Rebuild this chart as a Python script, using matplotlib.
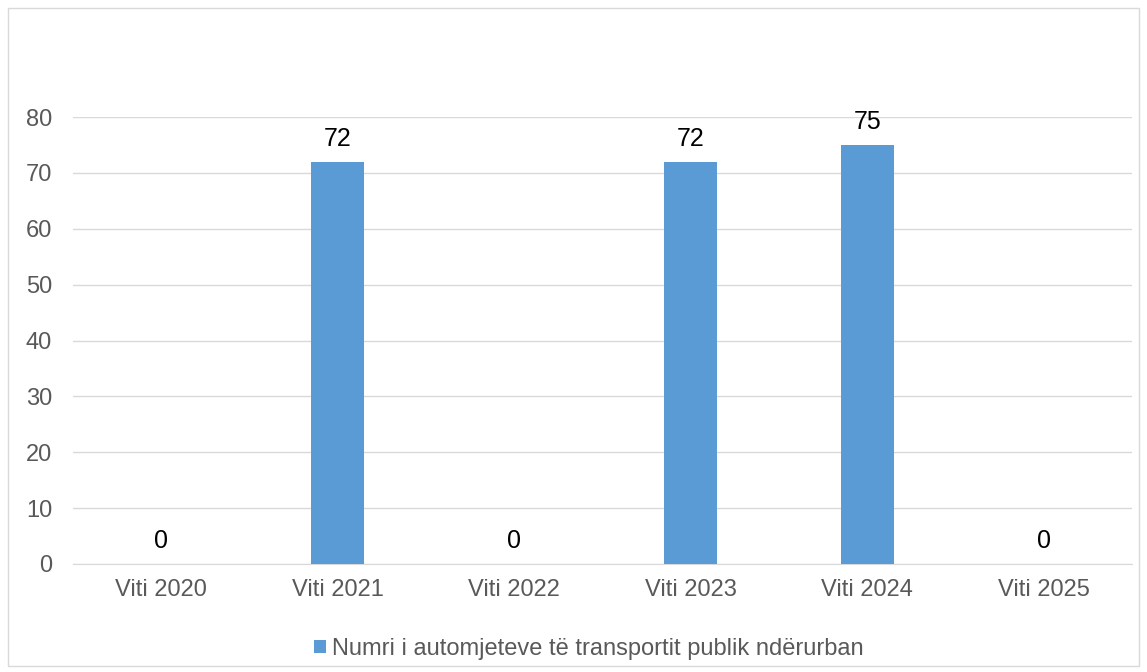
import matplotlib.pyplot as plt
from matplotlib.patches import Rectangle

plt.rcParams['font.family'] = ['Liberation Sans', 'DejaVu Sans']

# Te dhenat
categories = ['Viti 2020', 'Viti 2021', 'Viti 2022', 'Viti 2023', 'Viti 2024', 'Viti 2025']
values = [0, 72, 0, 72, 75, 0]
series_name = 'Numri i automjeteve të transportit publik ndërurban'
yticks = [0, 10, 20, 30, 40, 50, 60, 70, 80]

BAR_COLOR = '#5b9bd5'
GRID_COLOR = '#d9d9d9'
TEXT_COLOR = '#595959'

fig = plt.figure(figsize=(11.47, 6.72), dpi=100)
W, H = 1147, 672

# okvir rreth grafikut
fig.patches.append(Rectangle((8 / W, 1 - 666 / H), (1139 - 8) / W, (666 - 8) / H,
                             transform=fig.transFigure, fill=False,
                             edgecolor='#d9d9d9', linewidth=1))

ax = fig.add_axes([73 / W, 1 - 564 / H, (1132 - 73) / W, (564 - 117) / H])
x = list(range(len(categories)))
bars = ax.bar(x, values, width=0.3, color=BAR_COLOR, label=series_name, zorder=3)

ax.set_xlim(-0.5, len(categories) - 0.5)
ax.set_ylim(0, 80)
ax.set_yticks(yticks)
ax.set_xticks(x)
ax.set_xticklabels(categories)
ax.tick_params(axis='both', length=0, labelsize=17, colors=TEXT_COLOR)
ax.tick_params(axis='x', pad=11)
ax.tick_params(axis='y', pad=15)
ax.grid(axis='y', color=GRID_COLOR, linewidth=1, zorder=0)
for s in ['top', 'right', 'left']:
    ax.spines[s].set_visible(False)
ax.spines['bottom'].set_color(GRID_COLOR)

# Etiketat e vlerave
for xi, v in zip(x, values):
    ax.annotate(str(v), (xi, v), xytext=(0, 8), textcoords='offset points',
                ha='center', va='bottom', fontsize=18, color='black',
                annotation_clip=False)

leg = fig.legend(handles=[bars], labels=[series_name], loc='center',
                 bbox_to_anchor=(0.5 + 15 / W, 1 - 649 / H), frameon=False, fontsize=17,
                 handlelength=0.5, handleheight=0.5, handletextpad=0.25)
for t in leg.get_texts():
    t.set_color(TEXT_COLOR)

fig.savefig('out.png', dpi=100)
